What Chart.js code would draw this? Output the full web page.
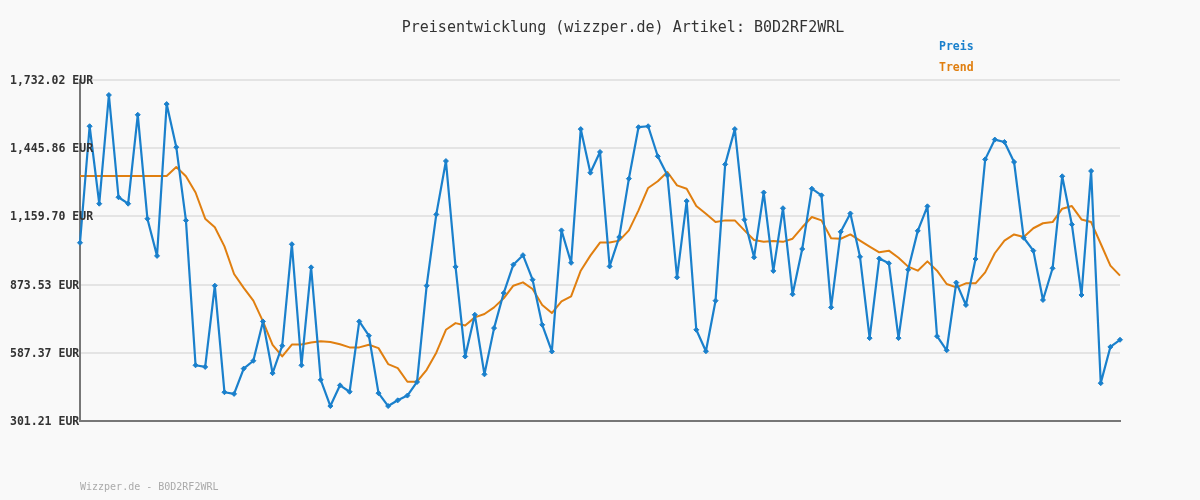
<!DOCTYPE html>
<html><head><meta charset="utf-8">
<script src="https://cdn.jsdelivr.net/npm/chart.js@4/dist/chart.umd.min.js"></script>
<style>html,body{margin:0;padding:0;background:#f9f9f9;}#wrap{width:1200px;height:500px;}</style>
</head><body><div id="wrap"><canvas id="c" width="1200" height="500"></canvas></div>
<script>
const titleText = "Preisentwicklung (wizzper.de) Artikel: B0D2RF2WRL";
const footerText = "Wizzper.de - B0D2RF2WRL";
const seriesNames = ["Preis", "Trend"];
const tickValues = [301.21, 587.37, 873.53, 1159.70, 1445.86, 1732.02];
const tickLabels = ["301.21 EUR", "587.37 EUR", "873.53 EUR", "1,159.70 EUR", "1,445.86 EUR", "1,732.02 EUR"];
const preis = [1049,1538,1213,1669,1240,1213,1586,1150,994,1631,
  1450,1143,535,528,869,422,415,521,554,719,
  502,617,1043,535,946,474,364,451,424,719,
  659,418,364,388,408,465,869,1168,1392,948,
  572,747,497,691,838,957,997,894,705,593,
  1101,965,1526,1343,1430,950,1073,1318,1534,1538,
  1412,1332,904,1224,684,594,806,1378,1526,1146,
  988,1260,931,1194,833,1023,1276,1248,778,1095,
  1172,990,649,983,963,649,936,1099,1202,657,
  598,882,788,981,1399,1482,1472,1388,1070,1016,
  809,942,1328,1126,830,1350,460,612,642];
const trend = [1329,1329,1329,1329,1329,1329,1329,1329,1329,1329,
  1367,1328,1260,1150,1114,1034,918,860,806,719,
  621,572,622,622,631,636,633,623,610,610,
  621,607,540,523,466,466,516,588,684,712,
  702,736,750,778,816,869,883,855,788,754,
  803,824,932,995,1050,1050,1058,1101,1185,1279,
  1307,1346,1290,1276,1203,1171,1136,1143,1143,1101,
  1061,1053,1056,1053,1066,1114,1157,1143,1068,1066,
  1084,1058,1033,1009,1016,986,949,932,971,932,
  876,862,879,879,925,1005,1058,1084,1073,1110,
  1131,1136,1192,1203,1147,1136,1045,953,911];
const categories = preis.map((_, i) => String(i + 1));

const MONO = "'DejaVu Sans Mono', 'Liberation Mono', monospace";
const colors = ["#1a80cc", "#e07f10"];

const textPlugin = {
  id: 'texts',
  beforeDraw(chart) {
    const ctx = chart.ctx;
    ctx.save(); ctx.fillStyle = '#f9f9f9'; ctx.fillRect(0, 0, chart.width, chart.height); ctx.restore();
  },
  afterDraw(chart) {
    const ctx = chart.ctx;
    const ys = chart.scales.y;
    ctx.save();
    ctx.textBaseline = 'middle';
    ctx.textAlign = 'center';
    ctx.font = "15px " + MONO;
    ctx.fillStyle = '#333333';
    ctx.fillText(titleText, 623, 28);
    ctx.textAlign = 'left';
    ctx.font = "bold 11.5px " + MONO;
    ctx.fillStyle = '#333333';
    ys.ticks.forEach(t => {
      const i = tickValues.indexOf(t.value);
      if (i >= 0) ctx.fillText(tickLabels[i], 10, ys.getPixelForValue(t.value) + 1);
    });
    chart.data.datasets.forEach((ds, i) => {
      ctx.fillStyle = colors[i];
      ctx.fillText(ds.label, 939, 47 + i * 21);
    });
    ctx.font = "10px " + MONO;
    ctx.fillStyle = '#aaaaaa';
    ctx.fillText(footerText, 80, 487);
    ctx.restore();
  }
};

new Chart(document.getElementById('c'), {
  type: 'line',
  data: {
    labels: categories,
    datasets: [
      { label: seriesNames[0], data: preis, borderColor: colors[0], backgroundColor: colors[0],
        borderWidth: 2.2, borderJoinStyle: 'round', pointStyle: 'rectRot', pointRadius: 2.5, pointBorderWidth: 1,
        pointBorderColor: colors[0], tension: 0, clip: false, order: 1 },
      { label: seriesNames[1], data: trend, borderColor: colors[1], backgroundColor: colors[1],
        borderWidth: 2, borderJoinStyle: 'round', pointRadius: 0, tension: 0, clip: false, order: 2 }
    ]
  },
  options: {
    responsive: false, animation: false, devicePixelRatio: 1,
    layout: { padding: { left: 80, right: 80, top: 80, bottom: 79 } },
    plugins: { legend: { display: false }, tooltip: { enabled: false }, title: { display: false } },
    scales: {
      x: { type: 'category', offset: false, display: true,
        grid: { display: false, drawTicks: false },
        border: { display: true, color: '#777777', width: 2 },
        ticks: { display: false } },
      y: { min: tickValues[0], max: tickValues[tickValues.length - 1],
        afterBuildTicks(scale) { scale.ticks = tickValues.map(v => ({ value: v })); },
        grid: { color: '#e4e4e4', lineWidth: 2, drawTicks: false },
        border: { display: true, color: '#777777', width: 2 },
        ticks: { display: false } }
    }
  },
  plugins: [textPlugin]
});
</script></body></html>
